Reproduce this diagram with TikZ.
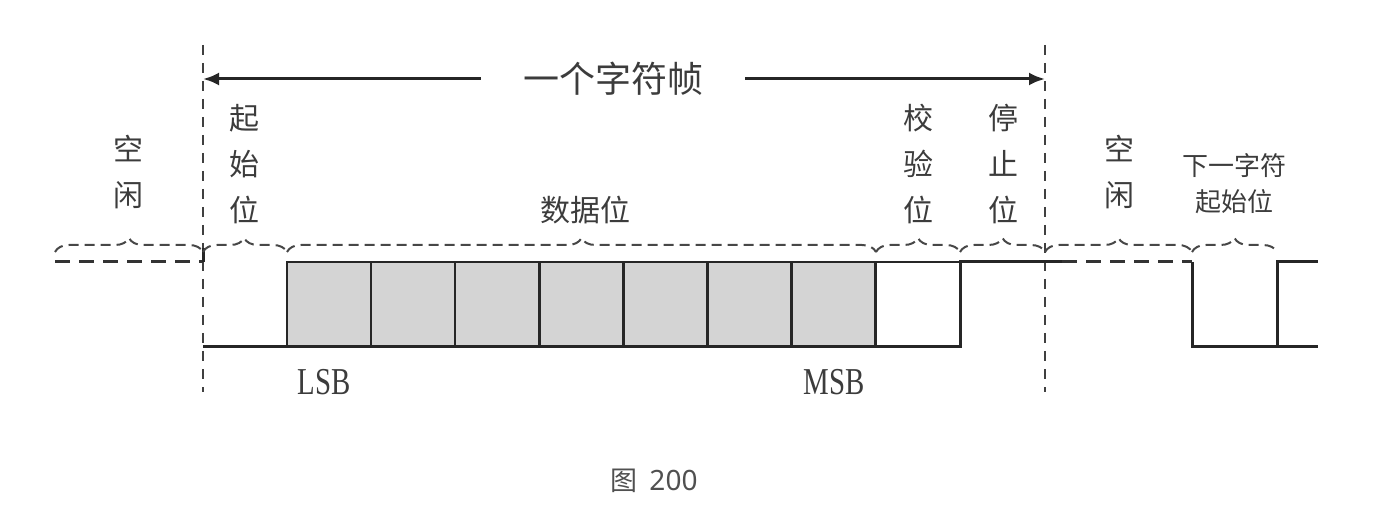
\documentclass[tikz,border=0pt]{standalone}
\usepackage{fontspec}
\setmainfont{Liberation Serif}
\newfontfamily\cjk{Noto Sans CJK SC}
\newfontfamily\capsans{Noto Sans}
\usetikzlibrary{arrows.meta,decorations.pathreplacing}
\definecolor{txt}{HTML}{3C3C3C}
\definecolor{boxgray}{HTML}{D4D4D4}
\definecolor{capcol}{HTML}{505050}
\tikzset{
  lbl/.style={text=txt, font=\cjk\fontsize{30}{46}\selectfont, align=center, inner sep=0pt},
  smalllbl/.style={text=txt, font=\cjk\fontsize{26}{36}\selectfont, align=center, inner sep=0pt},
  titlelbl/.style={text=txt, font=\cjk\fontsize{36}{40}\selectfont, inner xsep=42pt, inner ysep=0pt},
  bitlbl/.style={text=txt, font=\fontsize{38}{40}\selectfont, inner sep=0pt},
  sig/.style={line width=3pt, black!85, line join=miter},
  idlesig/.style={line width=3pt, dash pattern=on 15pt off 9pt, black!80},
  guide/.style={line width=1.8pt, dash pattern=on 10pt off 8pt, black!75},
  bracket/.style={decorate, decoration={brace, amplitude=14pt, aspect=#1}, line width=2pt, dash pattern=on 10pt off 6pt, black!72},
  bracket/.default=0.5,
  framearrow/.style={line width=3pt, black!85, -{Latex[length=16pt,width=13pt]}},
  databox/.style={draw=black!85, line width=2.5pt, fill=boxgray},
  paritybox/.style={draw=black!85, line width=2.5pt, fill=white}
}
\begin{document}
\begin{tikzpicture}[x=1pt,y=-1pt]
\useasboundingbox (0,0) rectangle (1386,510);

% guides
\coordinate (gLt) at (203,45); \coordinate (gLb) at (203,392);
\coordinate (gRt) at (1045,45); \coordinate (gRb) at (1045,392);
\draw[guide] (gLt) -- (gLb);
\draw[guide] (gRt) -- (gRb);

% frame arrow
\node[titlelbl] (title) at (613,79) {一个字符帧};
\coordinate (aL) at (203,79);
\coordinate (aR) at (1045,79);
\draw[framearrow] (title.west) -- (aL);
\draw[framearrow] (title.east) -- (aR);

% data boxes
\foreach \i in {0,...,6} {
  \draw[databox] ({287+84.1*\i},262) rectangle ({287+84.1*(\i+1)},347);
}
\draw[paritybox] (876,262) rectangle (960,347);

% signal
\coordinate (s0) at (55,262);
\coordinate (s1) at (203,262);
\coordinate (s2) at (203,347);
\coordinate (s3) at (960,347);
\coordinate (s4) at (960,262);
\coordinate (s5) at (1062,262);
\coordinate (s6) at (1192,262);
\coordinate (s7) at (1192,347);
\coordinate (s8) at (1318,347);
\coordinate (s9) at (1277,347);
\coordinate (s10) at (1277,262);
\coordinate (s11) at (1318,262);
\draw[idlesig] (s0) -- (s1);
\draw[sig] (s1) -- ++(0,-14);
\draw[sig] (s2) -- (s3) -- (s4) -- (s5);
\draw[idlesig] (s5) -- (s6);
\draw[sig] (s6) -- (s7) -- (s8);
\draw[sig] (s9) -- (s10) -- (s11);

% braces
\coordinate (b0) at (55,252);
\coordinate (b1) at (203,252);
\coordinate (b2) at (287,252);
\coordinate (b3) at (876,252);
\coordinate (b4) at (960,252);
\coordinate (b5) at (1045,252);
\coordinate (b6) at (1192,252);
\coordinate (b7) at (1277,252);
\draw[bracket] (b0) -- (b1);
\draw[bracket=0.49] (b1) -- (b2);
\draw[bracket=0.5] (b2) -- (b3);
\draw[bracket] (b3) -- (b4);
\draw[bracket] (b4) -- (b5);
\draw[bracket=0.5] (b5) -- (b6);
\draw[bracket=0.5] (b6) -- (b7);

% labels
\node[lbl] (idle1) at (128,172) {空\\闲};
\node[lbl] (start) at (244,164) {起\\始\\位};
\node[lbl] (data) at (585,210) {数据位};
\node[lbl] (parity) at (918,164) {校\\验\\位};
\node[lbl] (stop) at (1003,164) {停\\止\\位};
\node[lbl] (idle2) at (1119,172) {空\\闲};
\node[smalllbl] (next) at (1234,184) {下一字符\\起始位};

\node[bitlbl] (lsb) at (324,382) {\scalebox{0.76}[1]{LSB}};
\node[bitlbl] (msb) at (834,382) {\scalebox{0.76}[1]{MSB}};

\node[text=capcol, inner sep=0pt] (cap) at (654,481) {{\cjk\fontsize{27}{30}\selectfont 图}\hspace{12pt}{\capsans\fontsize{28}{30}\selectfont 200}};
\end{tikzpicture}
\end{document}
